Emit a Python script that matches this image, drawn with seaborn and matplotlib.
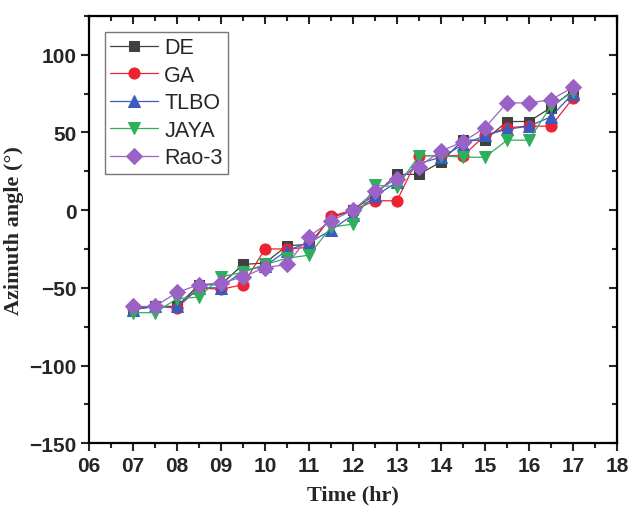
import pandas as pd
import seaborn as sns
import matplotlib.pyplot as plt
from matplotlib.ticker import MultipleLocator

# time of day (hr)
time = [7, 7.5, 8, 8.5, 9, 9.5, 10, 10.5, 11, 11.5, 12,
        12.5, 13, 13.5, 14, 14.5, 15, 15.5, 16, 16.5, 17]

de = [-64, -62, -62, -48, -48, -35, -34, -23, -22, -5, 0,
      10, 23, 23, 31, 45, 45, 57, 57, 66, 77]
ga = [-63, -62, -63, -50, -51, -48, -25, -25, -24, -4, 0,
      6, 6, 35, 35, 35, 48, 53, 54, 54, 72]
tlbo = [-64, -62, -62, -50, -50, -39, -36, -26, -21, -13, -3,
        9, 18, 30, 34, 42, 48, 52, 54, 60, 75]
jaya = [-66, -66, -57, -56, -43, -40, -35, -31, -29, -11, -9,
        16, 15, 35, 35, 34, 34, 45, 45, 67, 76]
rao3 = [-62, -62, -53, -48, -47, -43, -37, -35, -17, -7, 0,
        12, 20, 28, 38, 44, 53, 69, 69, 71, 79]

names = ["DE", "GA", "TLBO", "JAYA", "Rao-3"]
values = [de, ga, tlbo, jaya, rao3]
colors = ["#404040", "#ee2230", "#3a5cc0", "#2fae5c", "#9a62c6"]
markers = ["s", "o", "^", "v", "D"]
sizes = [7.5, 8, 8.5, 8.5, 8]

xticklabels = ["06", "07", "08", "09", "10", "11", "12",
               "13", "14", "15", "16", "17", "18"]

sns.set_style("ticks")
plt.rcParams['font.family'] = ['Liberation Sans', 'DejaVu Sans']

fig = plt.figure(figsize=(6.4, 5.1), dpi=100)
ax = fig.add_axes([0.139, 0.129, 0.825, 0.838])

for name, vals, col, mk, ms in zip(names, values, colors, markers, sizes):
    df = pd.DataFrame({"Time": time, "Angle": vals})
    sns.lineplot(data=df, x="Time", y="Angle", ax=ax, color=col, marker=mk,
                 markersize=ms, markeredgecolor=col, linewidth=0.9, label=name)

ax.set_xlim(6, 18)
ax.set_ylim(-150, 125)
ax.set_xticks(range(6, 19))
ax.set_xticklabels(xticklabels)
ax.set_yticks([-150, -100, -50, 0, 50, 100])
ax.set_yticklabels(["\u2212150", "\u2212100", "\u221250", "0", "50", "100"])
ax.xaxis.set_minor_locator(MultipleLocator(0.5))
ax.yaxis.set_minor_locator(MultipleLocator(25))

for lab in ax.get_xticklabels() + ax.get_yticklabels():
    lab.set_fontweight("bold")
    lab.set_fontsize(15)

ax.tick_params(which="major", direction="out", length=6, width=1.5, pad=3)
ax.tick_params(which="minor", direction="out", length=3.5, width=1.5)

for side in ["top", "right", "left", "bottom"]:
    ax.spines[side].set_visible(True)
    ax.spines[side].set_linewidth(1.6)
    ax.spines[side].set_color("black")

# inward ticks on top and right
top = ax.secondary_xaxis("top")
top.set_xticks(range(6, 19))
top.xaxis.set_minor_locator(MultipleLocator(0.5))
top.tick_params(which="major", direction="in", length=6, width=1.5, labeltop=False)
top.tick_params(which="minor", direction="in", length=3.5, width=1.5)
right = ax.secondary_yaxis("right")
right.set_yticks([-150, -100, -50, 0, 50, 100])
right.yaxis.set_minor_locator(MultipleLocator(25))
right.tick_params(which="major", direction="in", length=6, width=1.5, labelright=False)
right.tick_params(which="minor", direction="in", length=3.5, width=1.5)

ax.set_xlabel("Time (hr)", fontsize=16, fontweight="bold",
              family=["Liberation Serif", "DejaVu Serif"], labelpad=7)
ax.set_ylabel("Azimuth angle (\u00b0)", fontsize=16, fontweight="bold",
              family=["Liberation Serif", "DejaVu Serif"], labelpad=4)

leg = ax.legend(loc="upper left", fontsize=15.5, frameon=True, fancybox=False,
                handlelength=2.2, labelspacing=0.3, borderpad=0.25,
                handletextpad=0.3, borderaxespad=0.75)
leg.get_frame().set_edgecolor("#555555")
leg.get_frame().set_linewidth(1.0)

fig.savefig("out.png", dpi=100)
